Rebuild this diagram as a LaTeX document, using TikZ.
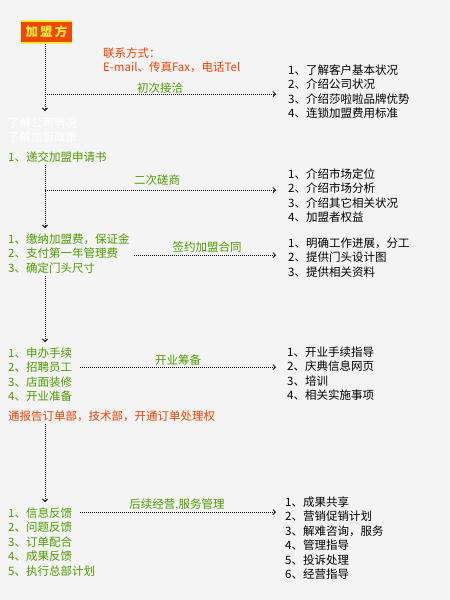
\documentclass[tikz,border=0pt]{standalone}
\usepackage{fontspec}
\setmainfont{Noto Sans CJK SC}
\usetikzlibrary{arrows.meta,positioning,calc}
\definecolor{bgc}{RGB}{244,244,244}
\definecolor{leaf}{RGB}{78,158,0}
\definecolor{alert}{RGB}{250,62,0}
\definecolor{hdrfill}{RGB}{240,72,0}
\definecolor{hdrtext}{RGB}{255,236,60}
\tikzset{
  txt/.style={anchor=north west, inner sep=0pt, align=left, font=\fontsize{11.5}{14.4}\selectfont},
  lst/.style={txt, text=black},
  grn/.style={txt, text=leaf},
  note/.style={txt, text=alert},
  ghost/.style={txt, text=white},
  stage/.style={inner sep=0pt, text=leaf, font=\fontsize{11.5}{14.4}\selectfont},
  hdr/.style={fill=hdrfill, text=hdrtext, minimum width=51pt, minimum height=24pt, inner sep=0pt, font=\fontsize{12.5}{14}\selectfont\bfseries},
  flow/.style={draw, line width=0.8pt, dash pattern=on 0.8pt off 1.2pt, -{Straight Barb[length=2.5pt,width=5pt]}}
}
\begin{document}
\begin{tikzpicture}[x=1pt, y=-1pt]
  \fill[bgc] (0,0) rectangle (450,600);
  % header
  \node[hdr] (hdr) at (46.5,32) {加\,盟\,方};
  \draw[hdrtext, line width=1.5pt] ([yshift=-1pt]hdr.north west) -- ([yshift=-1pt]hdr.north east);
  \draw[hdrtext, line width=1.5pt] ([yshift=1pt]hdr.south west) -- ([yshift=1pt]hdr.south east);
  % left column
  \node[note] (contact) at (103,47.5) {联系方式：\\E-mail、传真Fax，电话Tel};
  \node[ghost] (know) at (8,117.5) {了解公司情况\\了解加盟政策};
  \node[grn] (apply) at (8,151.5) {1、递交加盟申请书};
  \node[grn] (pay) at (8,233.5) {1、缴纳加盟费，保证金\\2、支付第一年管理费\\3、确定门头尺寸};
  \node[grn] (open) at (8,347.5) {1、申办手续\\2、招聘员工\\3、店面装修\\4、开业准备};
  \node[note] (notify) at (8,410.5) {通报告订单部，技术部，开通订单处理权};
  \node[grn] (feed) at (8,507.5) {1、信息反馈\\2、问题反馈\\3、订单配合\\4、成果反馈\\5、执行总部计划};
  % right column
  \node[lst] (intro) at (288,64.5) {1、了解客户基本状况\\2、介绍公司状况\\3、介绍莎啦啦品牌优势\\4、连锁加盟费用标准};
  \node[lst] (market) at (288,168.5) {1、介绍市场定位\\2、介绍市场分析\\3、介绍其它相关状况\\4、加盟者权益};
  \node[lst] (support) at (288,237.5) {1、明确工作进展，分工\\2、提供门头设计图\\3、提供相关资料};
  \node[lst] (guide) at (287,346.5) {1、开业手续指导\\2、庆典信息网页\\3、培训\\4、相关实施事项};
  \node[lst] (service) at (285,496.5) {1、成果共享\\2、营销促销计划\\3、解难咨询，服务\\4、管理指导\\5、投诉处理\\6、经营指导};
  % stage labels
  \node[stage] (s1) at (160,88) {初次接洽};
  \node[stage] (s2) at (157,180) {二次磋商};
  \node[stage] (s3) at (207,247) {签约加盟合同};
  \node[stage] (s4) at (178,360) {开业筹备};
  \node[stage] (s5) at (177,504) {后续经营.服务管理};
  % connectors
  \coordinate (d1) at (45,111);
  \coordinate (b1) at (45,94);
  \coordinate (d2) at (45,228);
  \coordinate (b2) at (45,190);
  \coordinate (d3) at (45,342);
  \coordinate (b3) at (134,255);
  \coordinate (b4) at (80,367);
  \coordinate (d4) at (45,502);
  \coordinate (b5) at (80,512);
  \draw[flow] (hdr.south -| d1) -- (d1);
  \draw[flow] (b1) -- ([xshift=-12pt]intro.west |- b1);
  \draw[flow] ([yshift=-2pt]apply.south -| d2) -- (d2);
  \draw[flow] (b2) -- ([xshift=-12pt]market.west |- b2);
  \draw[flow] ([yshift=-3pt]pay.south -| d3) -- (d3);
  \draw[flow] (b3) -- ([xshift=-12pt]support.west |- b3);
  \draw[flow] (b4) -- ([xshift=-11pt]guide.west |- b4);
  \draw[flow] ([yshift=-2pt]notify.south -| d4) -- (d4);
  \draw[flow] (b5) -- ([xshift=-9pt]service.west |- b5);
\end{tikzpicture}
\end{document}
